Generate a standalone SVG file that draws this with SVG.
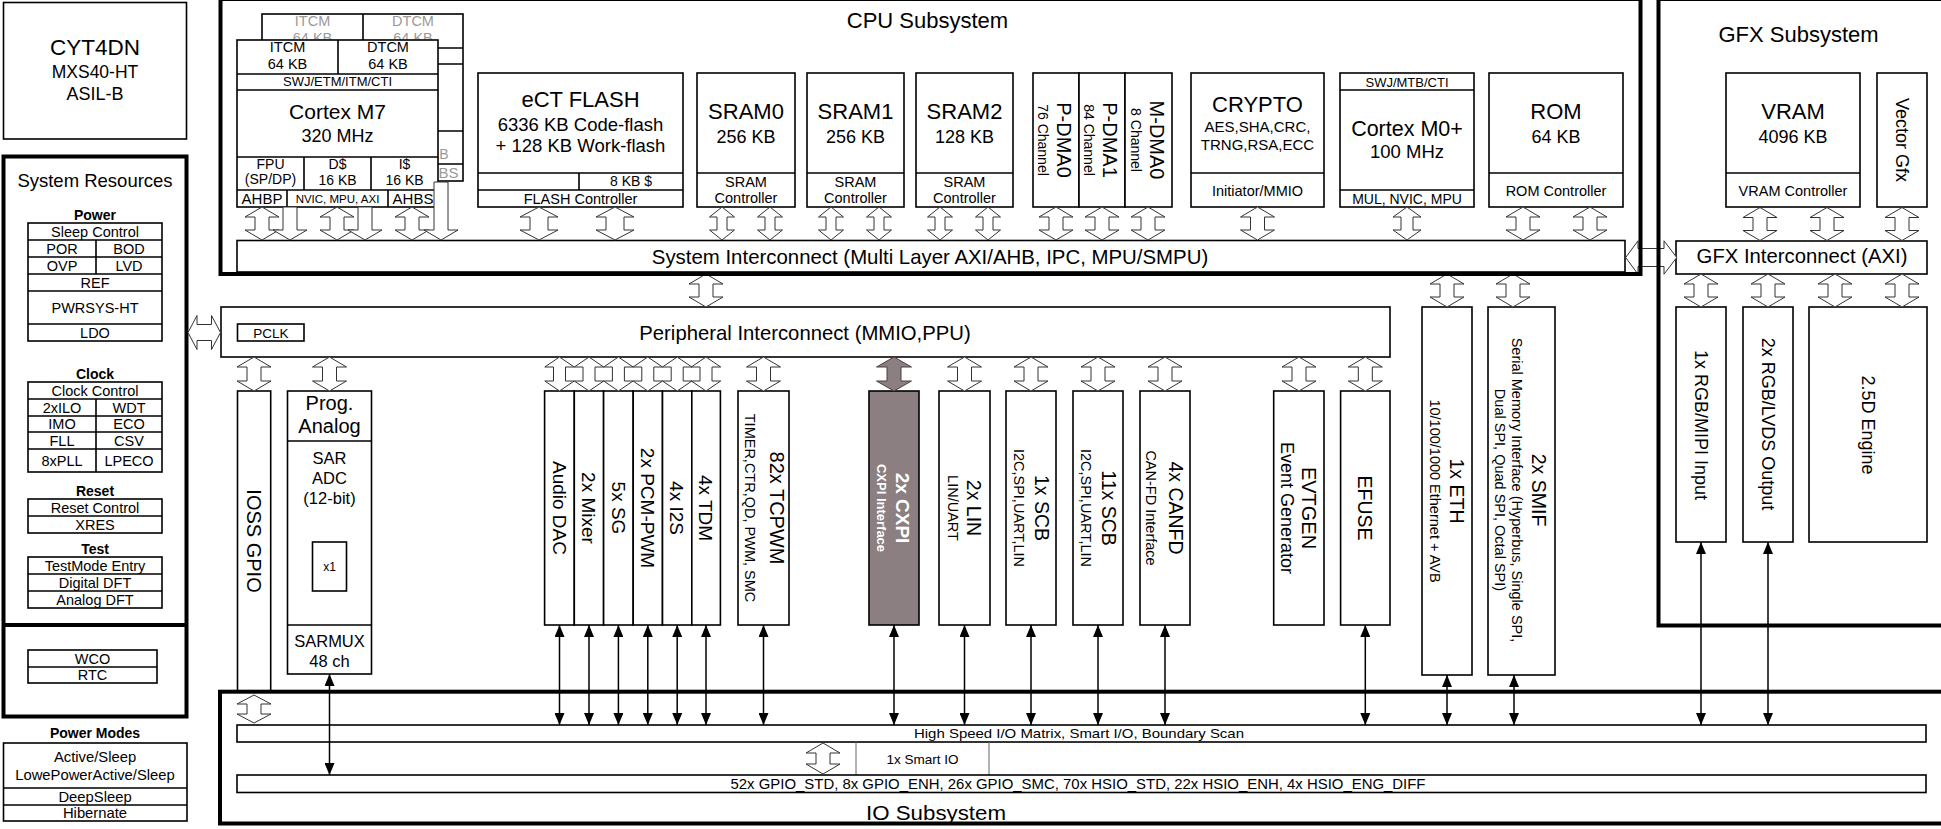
<svg xmlns="http://www.w3.org/2000/svg" width="1941" height="829" viewBox="0 0 1941 829">
<style>
text{font-family:"Liberation Sans",Arial,Helvetica,sans-serif;fill:#000;text-anchor:middle}
.b{fill:#fff;stroke:#000;stroke-width:1.6}
.n{fill:none;stroke:#000;stroke-width:1.6}
.k{fill:none;stroke:#000;stroke-width:4}
.ha{fill:#fff;stroke:#333;stroke-width:1}
.ln{stroke:#000;stroke-width:1.5;fill:none;marker-start:url(#ah);marker-end:url(#ah)}
.gh text{fill:#9a9a9a}
.bd{font-weight:bold}
.w text{fill:#fff}
</style>
<defs>
<marker id="ah" viewBox="0 0 12 10" refX="12" refY="5" markerWidth="12" markerHeight="10" markerUnits="userSpaceOnUse" orient="auto-start-reverse"><path d="M0,0L12,5L0,10Z" fill="#000"/></marker>
<clipPath id="ghclip"><rect x="230" y="0" width="240" height="65.5"/></clipPath>
<path id="dbl" class="ha" d="M0,0L17,10H7V23H17L0,33L-17,23H-7V10H-17Z"/>
<path id="dbl34" class="ha" d="M0,0L17,10H7V24H17L0,34L-17,24H-7V10H-17Z"/>
<path id="dblF" class="ha" d="M0,0L19,10H9V23H19L0,33L-19,23H-9V10H-19Z"/>
<path id="dblS" class="ha" d="M0,0L12.5,10H5V23H12.5L0,33L-12.5,23H-5V10H-12.5Z"/>
<path id="dblM" class="ha" d="M0,0L14,10H6V23H14L0,33L-14,23H-6V10H-14Z"/>
<path id="dblA" class="ha" d="M0,0L14.7,10H6V24H14.7L0,34L-14.7,24H-6V10H-14.7Z"/>
<path id="dn33" class="ha" d="M-7,0H7V23H17L0,33L-17,23H-7Z"/>
<path id="dn58" class="ha" d="M-7,0H7V48H17L0,58L-17,48H-7Z"/>
<path id="io28" class="ha" d="M0,0L17,9H7V19H17L0,28L-17,19H-7V9H-17Z"/>
<path id="io31" class="ha" d="M0,0L17,10H7V21H17L0,31L-17,21H-7V10H-17Z"/>
</defs>
<rect x="0" y="0" width="1941" height="829" fill="#fff"/>

<g id="cyt4dn">
<rect class="b" x="3.5" y="2.5" width="183" height="136.5"/>
<text x="95" y="55" font-size="22.5">CYT4DN</text>
<text x="95" y="78" font-size="17.5">MXS40-HT</text>
<text x="95" y="100" font-size="18">ASIL-B</text>
</g>

<g id="system-resources" font-size="14.5">
<rect x="3.5" y="156.5" width="183" height="560" fill="#fff" stroke="#000" stroke-width="4"/>
<line x1="3.5" y1="625" x2="186.5" y2="625" stroke="#000" stroke-width="4"/>
<text x="95" y="187" font-size="18.5">System Resources</text>
<text class="bd" x="95" y="220" font-size="14">Power</text>
<rect class="b" x="28" y="223" width="134" height="118"/>
<path class="n" d="M28,240H162M28,257H162M28,274H162M28,291H162M28,324H162M96,240V274"/>
<text x="95" y="236.7">Sleep Control</text>
<text x="62" y="253.7">POR</text><text x="129" y="253.7">BOD</text>
<text x="62" y="270.7">OVP</text><text x="129" y="270.7">LVD</text>
<text x="95" y="287.7">REF</text>
<text x="95" y="312.7">PWRSYS-HT</text>
<text x="95" y="337.7">LDO</text>
<text class="bd" x="95" y="379" font-size="14">Clock</text>
<rect class="b" x="28" y="382" width="134" height="90"/>
<path class="n" d="M28,399H162M28,416H162M28,432H162M28,449H162M96,399V472"/>
<text x="95" y="395.7">Clock Control</text>
<text x="62" y="412.7">2xILO</text><text x="129" y="412.7">WDT</text>
<text x="62" y="429">IMO</text><text x="129" y="429">ECO</text>
<text x="62" y="445.7">FLL</text><text x="129" y="445.7">CSV</text>
<text x="62" y="465.7">8xPLL</text><text x="129" y="465.7">LPECO</text>
<text class="bd" x="95" y="496" font-size="14">Reset</text>
<rect class="b" x="28" y="499" width="134" height="34"/>
<path class="n" d="M28,516H162"/>
<text x="95" y="512.7">Reset Control</text>
<text x="95" y="529.7">XRES</text>
<text class="bd" x="95" y="554" font-size="14">Test</text>
<rect class="b" x="28" y="557" width="134" height="51"/>
<path class="n" d="M28,574H162M28,591H162"/>
<text x="95" y="570.7">TestMode Entry</text>
<text x="95" y="587.7">Digital DFT</text>
<text x="95" y="604.7">Analog DFT</text>
<rect class="b" x="28" y="650" width="129" height="33"/>
<path class="n" d="M28,667H157"/>
<text x="92.5" y="663.5">WCO</text>
<text x="92.5" y="680">RTC</text>
</g>

<g id="power-modes" font-size="14.8">
<text class="bd" x="95" y="738" font-size="14">Power Modes</text>
<rect class="b" x="3.5" y="743" width="183.5" height="78"/>
<path class="n" d="M3.5,788H187M3.5,805H187"/>
<text x="95" y="762">Active/Sleep</text>
<text x="95" y="780">LowePowerActive/Sleep</text>
<text x="95" y="801.5">DeepSleep</text>
<text x="95" y="818">Hibernate</text>
</g>

<g id="cpu-subsystem-title"><text x="927.5" y="28" font-size="22">CPU Subsystem</text></g>
<g id="gfx-subsystem-title"><text x="1798.5" y="42" font-size="22">GFX Subsystem</text></g>

<g id="cortex-m7-shadow" class="gh" transform="translate(25,-26)">
<rect class="b" x="237" y="40" width="201" height="167"/>
<path class="n" d="M237,74H438M237,90H438M237,157H438M237,190H438M338,40V74M304,157V190M371,157V190M287,190V207M388,190V207"/>
<text x="287.5" y="52" font-size="14.5">ITCM</text>
<text x="388" y="52" font-size="14.5">DTCM</text>
<g clip-path="url(#ghclip)">
<text x="287.5" y="69" font-size="14.5">64 KB</text>
<text x="388" y="69" font-size="14.5">64 KB</text>
</g>
<text x="404.5" y="185" font-size="14">16 KB</text>
<text x="413" y="203.5" font-size="15">AHBS</text>
</g>

<g id="cortex-m7">
<rect class="b" x="237" y="40" width="201" height="167"/>
<path class="n" d="M237,74H438M237,90H438M237,157H438M237,190H438M338,40V74M304,157V190M371,157V190M287,190V207M388,190V207"/>
<text x="287.5" y="52" font-size="14.5">ITCM</text><text x="287.5" y="69" font-size="14.5">64 KB</text>
<text x="388" y="52" font-size="14.5">DTCM</text><text x="388" y="69" font-size="14.5">64 KB</text>
<text x="337.5" y="86" font-size="13">SWJ/ETM/ITM/CTI</text>
<text x="337.5" y="119" font-size="21">Cortex M7</text>
<text x="337.5" y="142" font-size="18">320 MHz</text>
<text x="270.5" y="168.5" font-size="14">FPU</text><text x="270.5" y="184" font-size="14">(SP/DP)</text>
<text x="337.5" y="168.5" font-size="14">D$</text><text x="337.5" y="185" font-size="14">16 KB</text>
<text x="404.5" y="168.5" font-size="14">I$</text><text x="404.5" y="185" font-size="14">16 KB</text>
<text x="262" y="203.5" font-size="15">AHBP</text>
<text x="337.5" y="202.5" font-size="11.5">NVIC, MPU, AXI</text>
<text x="413" y="203.5" font-size="15">AHBS</text>
</g>

<g id="ect-flash">
<rect class="b" x="478" y="73" width="205" height="134"/>
<path class="n" d="M478,173H683M478,190H683M579,173V190"/>
<text x="580.5" y="107" font-size="22">eCT FLASH</text>
<text x="580.5" y="131" font-size="18.5">6336 KB Code-flash</text>
<text x="580.5" y="152" font-size="18.5">+ 128 KB Work-flash</text>
<text x="631" y="186" font-size="14">8 KB $</text>
<text x="580.5" y="203.5" font-size="14.5">FLASH Controller</text>
</g>

<g id="sram0">
<rect class="b" x="697" y="73" width="98" height="134"/><path class="n" d="M697,173H795"/>
<text x="746" y="119" font-size="22">SRAM0</text><text x="746" y="143" font-size="18">256 KB</text>
<text x="746" y="186.5" font-size="14.5">SRAM</text><text x="746" y="203" font-size="14.5">Controller</text>
</g>
<g id="sram1">
<rect class="b" x="807" y="73" width="97" height="134"/><path class="n" d="M807,173H904"/>
<text x="855.5" y="119" font-size="22">SRAM1</text><text x="855.5" y="143" font-size="18">256 KB</text>
<text x="855.5" y="186.5" font-size="14.5">SRAM</text><text x="855.5" y="203" font-size="14.5">Controller</text>
</g>
<g id="sram2">
<rect class="b" x="916" y="73" width="97" height="134"/><path class="n" d="M916,173H1013"/>
<text x="964.5" y="119" font-size="22">SRAM2</text><text x="964.5" y="143" font-size="18">128 KB</text>
<text x="964.5" y="186.5" font-size="14.5">SRAM</text><text x="964.5" y="203" font-size="14.5">Controller</text>
</g>

<g id="p-dma0">
<rect class="b" x="1033" y="73" width="46" height="134"/>
<text transform="translate(1056 140) rotate(90)" x="0" y="-1" font-size="20">P-DMA0</text>
<text transform="translate(1056 140) rotate(90)" x="0" y="18" font-size="14">76 Channel</text>
</g>
<g id="p-dma1">
<rect class="b" x="1079" y="73" width="46" height="134"/>
<text transform="translate(1102 140) rotate(90)" x="0" y="-1" font-size="20">P-DMA1</text>
<text transform="translate(1102 140) rotate(90)" x="0" y="18" font-size="14">84 Channel</text>
</g>
<g id="m-dma0">
<rect class="b" x="1125" y="73" width="47" height="134"/>
<text transform="translate(1148.5 140) rotate(90)" x="0" y="-1" font-size="20">M-DMA0</text>
<text transform="translate(1148.5 140) rotate(90)" x="0" y="18" font-size="14">8 Channel</text>
</g>

<g id="crypto">
<rect class="b" x="1191" y="73" width="133" height="134"/><path class="n" d="M1191,173H1324"/>
<text x="1257.5" y="112" font-size="22">CRYPTO</text>
<text x="1257.5" y="132" font-size="15">AES,SHA,CRC,</text>
<text x="1257.5" y="150" font-size="15">TRNG,RSA,ECC</text>
<text x="1257.5" y="195.5" font-size="14.5">Initiator/MMIO</text>
</g>

<g id="cortex-m0">
<rect class="b" x="1340" y="73" width="134" height="134"/><path class="n" d="M1340,90H1474M1340,190H1474"/>
<text x="1407" y="86.5" font-size="13">SWJ/MTB/CTI</text>
<text x="1407" y="136" font-size="21.5">Cortex M0+</text>
<text x="1407" y="158" font-size="18.5">100 MHz</text>
<text x="1407" y="203.5" font-size="14">MUL, NVIC, MPU</text>
</g>

<g id="rom">
<rect class="b" x="1489" y="73" width="134" height="134"/><path class="n" d="M1489,173H1623"/>
<text x="1556" y="119" font-size="22">ROM</text><text x="1556" y="143" font-size="18">64 KB</text>
<text x="1556" y="196" font-size="14.5">ROM Controller</text>
</g>

<g id="vram">
<rect class="b" x="1726" y="73" width="134" height="134"/><path class="n" d="M1726,173H1860"/>
<text x="1793" y="119" font-size="22">VRAM</text><text x="1793" y="143" font-size="18">4096 KB</text>
<text x="1793" y="196" font-size="14.5">VRAM Controller</text>
</g>
<g id="vector-gfx">
<rect class="b" x="1877" y="73" width="50" height="134"/>
<text transform="translate(1902 140) rotate(90)" x="0" y="6.5" font-size="18">Vector Gfx</text>
</g>

<g id="system-interconnect">
<rect class="b" x="237" y="240.5" width="1388" height="31.5"/>
<text x="930" y="263.5" font-size="20.4">System Interconnect (Multi Layer AXI/AHB, IPC, MPU/SMPU)</text>
</g>
<g id="gfx-interconnect">
<rect class="b" x="1676" y="241" width="251" height="33"/>
<text x="1802" y="263" font-size="20.3">GFX Interconnect (AXI)</text>
</g>
<g id="peripheral-interconnect">
<rect class="b" x="221" y="307" width="1169" height="50"/>
<text x="805" y="340" font-size="20.3">Peripheral Interconnect (MMIO,PPU)</text>
<rect class="b" x="237.5" y="324" width="66.5" height="17" stroke-width="1.2"/>
<text x="271" y="337.5" font-size="13.5">PCLK</text>
</g>

<g id="ioss-gpio">
<rect class="b" x="237.5" y="391" width="33.2" height="301"/>
<text transform="translate(254 541) rotate(90)" x="0" y="7" font-size="20">IOSS GPIO</text>
</g>
<g id="prog-analog">
<rect class="b" x="287.5" y="391" width="84" height="283"/>
<path class="n" d="M287.5,441H371.5M287.5,625H371.5"/>
<text x="329.5" y="410" font-size="20">Prog.</text>
<text x="329.5" y="433" font-size="20">Analog</text>
<text x="329.5" y="464" font-size="16.5">SAR</text>
<text x="329.5" y="484" font-size="16.5">ADC</text>
<text x="329.5" y="504" font-size="16.5">(12-bit)</text>
<rect class="b" x="312.5" y="542" width="34" height="49" stroke-width="1.2"/>
<text x="329.5" y="571" font-size="12">x1</text>
<text x="329.5" y="647" font-size="16.5">SARMUX</text>
<text x="329.5" y="667" font-size="16.5">48 ch</text>
</g>

<g id="audio-dac"><rect class="b" x="544.6" y="391" width="29.7" height="234"/><text transform="translate(559.5 508) rotate(90)" x="0" y="6.8" font-size="19">Audio DAC</text></g>
<g id="mixer"><rect class="b" x="574.3" y="391" width="29.3" height="234"/><text transform="translate(589 508) rotate(90)" x="0" y="6.8" font-size="19">2x Mixer</text></g>
<g id="sg"><rect class="b" x="603.6" y="391" width="29.6" height="234"/><text transform="translate(618.4 508) rotate(90)" x="0" y="6.8" font-size="19">5x SG</text></g>
<g id="pcm-pwm"><rect class="b" x="633.2" y="391" width="29.3" height="234"/><text transform="translate(647.8 508) rotate(90)" x="0" y="6.8" font-size="19">2x PCM-PWM</text></g>
<g id="i2s"><rect class="b" x="662.5" y="391" width="29.3" height="234"/><text transform="translate(677.2 508) rotate(90)" x="0" y="6.8" font-size="19">4x I2S</text></g>
<g id="tdm"><rect class="b" x="691.8" y="391" width="28.6" height="234"/><text transform="translate(706 508) rotate(90)" x="0" y="6.8" font-size="19">4x TDM</text></g>

<g id="tcpwm"><rect class="b" x="738" y="391" width="51" height="234"/>
<text transform="translate(763.5 508) rotate(90)" x="0" y="-6" font-size="20">82x TCPWM</text>
<text transform="translate(763.5 508) rotate(90)" x="0" y="18.5" font-size="14.5">TIMER,CTR,QD, PWM, SMC</text></g>
<g id="cxpi" class="w"><rect x="869" y="391" width="50" height="234" fill="#8c7f81" stroke="#000" stroke-width="1.6"/>
<text class="bd" transform="translate(894 508) rotate(90)" x="0" y="-2" font-size="19">2x CXPI</text>
<text class="bd" transform="translate(894 508) rotate(90)" x="0" y="17" font-size="13">CXPI Interface</text></g>
<g id="lin"><rect class="b" x="939" y="391" width="51" height="234"/>
<text transform="translate(964.5 508) rotate(90)" x="0" y="-2.5" font-size="19.5">2x LIN</text>
<text transform="translate(964.5 508) rotate(90)" x="0" y="16.5" font-size="14.5">LIN/UART</text></g>
<g id="scb1"><rect class="b" x="1006" y="391" width="50" height="234"/>
<text transform="translate(1031 508) rotate(90)" x="0" y="-3.5" font-size="19.5">1x SCB</text>
<text transform="translate(1031 508) rotate(90)" x="0" y="17.4" font-size="14.5">I2C,SPI,UART,LIN</text></g>
<g id="scb11"><rect class="b" x="1073" y="391" width="50" height="234"/>
<text transform="translate(1098 508) rotate(90)" x="0" y="-3.5" font-size="19.5">11x SCB</text>
<text transform="translate(1098 508) rotate(90)" x="0" y="17.4" font-size="14.5">I2C,SPI,UART,LIN</text></g>
<g id="canfd"><rect class="b" x="1140" y="391" width="50" height="234"/>
<text transform="translate(1165 508) rotate(90)" x="0" y="-4" font-size="19.5">4x CANFD</text>
<text transform="translate(1165 508) rotate(90)" x="0" y="19" font-size="14.5">CAN-FD Interface</text></g>
<g id="evtgen"><rect class="b" x="1273.7" y="391" width="50.3" height="234"/>
<text transform="translate(1299 508) rotate(90)" x="0" y="-3" font-size="20">EVTGEN</text>
<text transform="translate(1299 508) rotate(90)" x="0" y="18" font-size="18">Event Generator</text></g>
<g id="efuse"><rect class="b" x="1340.6" y="391" width="49.4" height="234"/>
<text transform="translate(1365.3 508) rotate(90)" x="0" y="6.8" font-size="19.5">EFUSE</text></g>

<g id="eth"><rect class="b" x="1422" y="307" width="50" height="368"/>
<text transform="translate(1447 491) rotate(90)" x="0" y="-3" font-size="19.5">1x ETH</text>
<text transform="translate(1447 491) rotate(90)" x="0" y="17" font-size="14.5">10/100/1000 Ethernet + AVB</text></g>
<g id="smif"><rect class="b" x="1488" y="307" width="67" height="368"/>
<text transform="translate(1521.5 490) rotate(90)" x="0" y="-10.5" font-size="19.5">2x SMIF</text>
<text transform="translate(1521.5 490) rotate(90)" x="0" y="9.5" font-size="14.5">Serial Memory Interface (Hyperbus, Single SPI,</text>
<text transform="translate(1521.5 490) rotate(90)" x="0" y="27" font-size="14.5">Dual SPI, Quad SPI, Octal SPI)</text></g>

<g id="rgb-mipi-input"><rect class="b" x="1676" y="307" width="50" height="235"/>
<text transform="translate(1701 425) rotate(90)" x="0" y="6.4" font-size="18">1x RGB/MIPI Input</text></g>
<g id="rgb-lvds-output"><rect class="b" x="1743" y="307" width="50" height="235"/>
<text transform="translate(1768 424) rotate(90)" x="0" y="6.4" font-size="18">2x RGB/LVDS Output</text></g>
<g id="engine-2-5d"><rect class="b" x="1809" y="307" width="118" height="235"/>
<text transform="translate(1868 425) rotate(90)" x="0" y="6.4" font-size="18">2.5D Engine</text></g>

<g id="high-speed-io-matrix">
<rect class="b" x="237" y="725" width="1689" height="17"/>
<text x="1079" y="737.5" font-size="13" textLength="330" lengthAdjust="spacingAndGlyphs">High Speed I/O Matrix, Smart I/O, Boundary Scan</text>
</g>
<g id="smart-io">
<path d="M856,742V775M989,742V775" stroke="#666" stroke-width="1" fill="none"/>
<text x="922.5" y="764" font-size="13.5">1x Smart IO</text>
</g>
<g id="gpio-bar">
<rect class="b" x="237" y="775" width="1689" height="17.5"/>
<text x="1078" y="789" font-size="14" textLength="695" lengthAdjust="spacingAndGlyphs">52x GPIO_STD, 8x GPIO_ENH, 26x GPIO_SMC, 70x HSIO_STD, 22x HSIO_ENH, 4x HSIO_ENG_DIFF</text>
</g>
<g id="io-subsystem-title"><text x="936" y="820" font-size="20" textLength="140" lengthAdjust="spacingAndGlyphs">IO Subsystem</text></g>

<g id="connectors">
<use href="#dbl" x="262" y="207"/><use href="#dbl" x="337" y="207"/><use href="#dbl" x="412" y="207"/>
<use href="#dn33" x="290" y="207"/><use href="#dn33" x="365" y="207"/><use href="#dn58" x="441" y="182"/>
<use href="#dblF" x="539" y="207"/><use href="#dblF" x="615" y="207"/>
<use href="#dblS" x="722" y="207"/><use href="#dblS" x="770" y="207"/>
<use href="#dblS" x="831" y="207"/><use href="#dblS" x="879" y="207"/>
<use href="#dblS" x="940" y="207"/><use href="#dblS" x="988" y="207"/>
<use href="#dbl" x="1056" y="207"/><use href="#dbl" x="1102" y="207"/><use href="#dbl" x="1148" y="207"/>
<use href="#dbl" x="1257.5" y="207"/>
<use href="#dblM" x="1407" y="207"/>
<use href="#dbl" x="1523" y="207"/><use href="#dbl" x="1590" y="207"/>
<use href="#dbl" x="1760" y="207.5"/><use href="#dbl" x="1827" y="207.5"/><use href="#dbl" x="1902" y="207.5"/>
<use href="#dbl" x="706" y="274"/>
<use href="#dbl" x="1447" y="274"/><use href="#dbl" x="1513" y="274"/>
<use href="#dbl" x="1701" y="274"/><use href="#dbl" x="1768" y="274"/><use href="#dbl" x="1835" y="274"/><use href="#dbl" x="1902" y="274"/>
<use href="#dbl34" x="254" y="357"/><use href="#dbl34" x="329.5" y="357"/>
<use href="#dblA" x="559.5" y="357"/><use href="#dblA" x="589" y="357"/><use href="#dblA" x="618.4" y="357"/>
<use href="#dblA" x="647.8" y="357"/><use href="#dblA" x="677.2" y="357"/><use href="#dblA" x="706" y="357"/>
<use href="#dbl34" x="763.5" y="357"/>
<path d="M894,357L911.5,367H901V381H911.5L894,391L876.5,381H887V367H876.5Z" fill="#8c7f81" stroke="#4a4040" stroke-width="1"/>
<use href="#dbl34" x="964.5" y="357"/><use href="#dbl34" x="1031" y="357"/><use href="#dbl34" x="1098" y="357"/>
<use href="#dbl34" x="1165" y="357"/><use href="#dbl34" x="1299" y="357"/><use href="#dbl34" x="1365.3" y="357"/>
<use href="#io28" x="254" y="695"/>
<use href="#io31" x="823" y="743"/>
<path class="ha" d="M188,332.5L197,315.5V324.5H211.5V315.5L220.5,332.5L211.5,349.5V340.5H197V349.5Z"/>
<path class="ha" d="M1625.7,257.5L1638,240.8V248.5H1664V240.8L1676.7,257.5L1664,274.2V266.5H1638V274.2Z"/>
<line class="ln" x1="559.5" y1="625" x2="559.5" y2="725"/>
<line class="ln" x1="589" y1="625" x2="589" y2="725"/>
<line class="ln" x1="618.4" y1="625" x2="618.4" y2="725"/>
<line class="ln" x1="647.8" y1="625" x2="647.8" y2="725"/>
<line class="ln" x1="677.2" y1="625" x2="677.2" y2="725"/>
<line class="ln" x1="706" y1="625" x2="706" y2="725"/>
<line class="ln" x1="763.5" y1="625" x2="763.5" y2="725"/>
<line class="ln" x1="894" y1="625" x2="894" y2="725"/>
<line class="ln" x1="964.5" y1="625" x2="964.5" y2="725"/>
<line class="ln" x1="1031" y1="625" x2="1031" y2="725"/>
<line class="ln" x1="1098" y1="625" x2="1098" y2="725"/>
<line class="ln" x1="1165" y1="625" x2="1165" y2="725"/>
<line class="ln" x1="1365.3" y1="625" x2="1365.3" y2="725"/>
<line class="ln" x1="1447" y1="675" x2="1447" y2="725"/>
<line class="ln" x1="1514" y1="675" x2="1514" y2="725"/>
<line class="ln" x1="1701" y1="542" x2="1701" y2="725"/>
<line class="ln" x1="1768" y1="542" x2="1768" y2="725"/>
<line class="ln" x1="329.5" y1="674" x2="329.5" y2="775"/>
</g>

<g id="cpu-subsystem"><rect class="k" x="220.5" y="-1" width="1420" height="275"/></g>
<g id="gfx-subsystem"><rect class="k" x="1658.5" y="-1" width="300" height="626.5"/></g>
<g id="io-subsystem"><rect class="k" x="220" y="691.7" width="1740" height="131.8"/></g>
</svg>
